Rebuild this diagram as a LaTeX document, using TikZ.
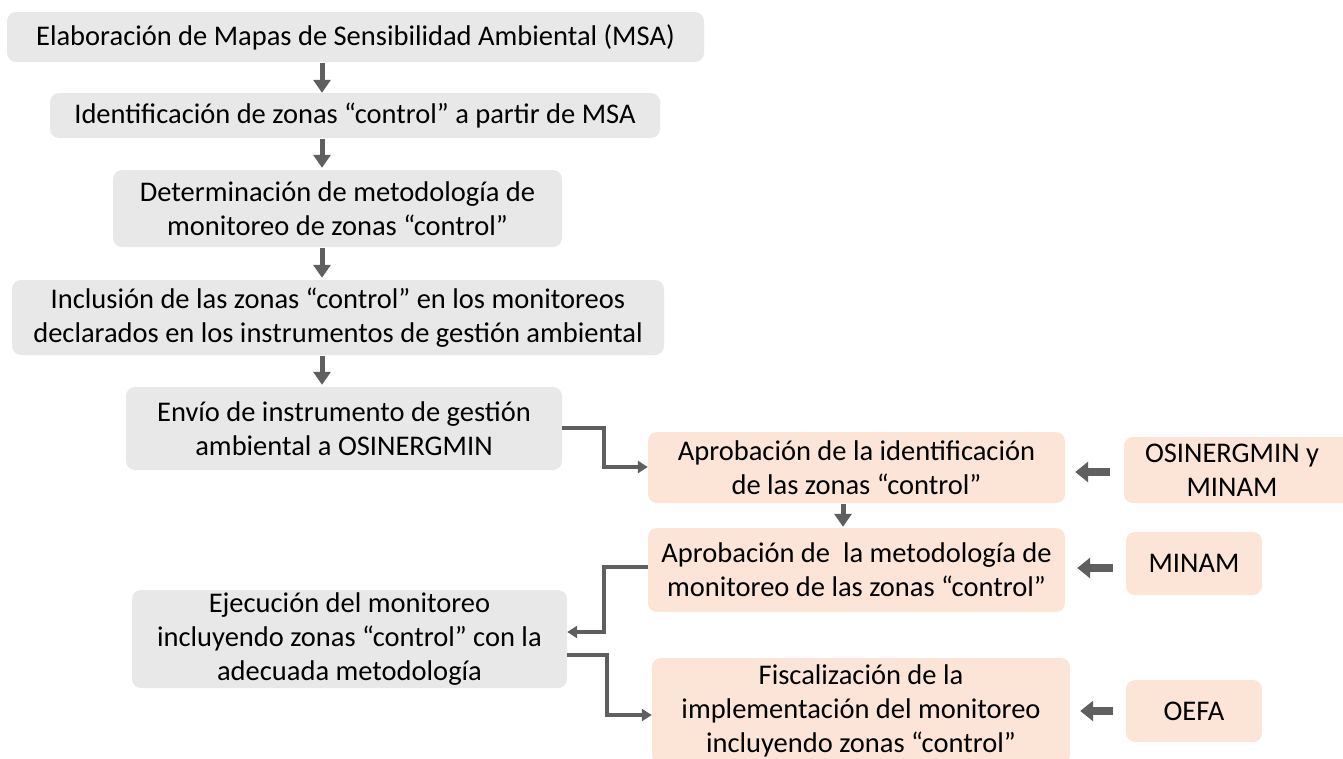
\documentclass[tikz,border=0pt]{standalone}
\usepackage{fontspec}
\setmainfont{Carlito}
\usetikzlibrary{arrows.meta,calc}
\definecolor{gbox}{HTML}{E8E8E8}
\definecolor{sbox}{HTML}{FCE4D6}
\definecolor{arrc}{HTML}{5F5F5F}
\begin{document}
\begin{tikzpicture}[x=1pt,y=-1pt,
  base/.style={rounded corners=9pt, align=center, inner sep=0pt,
    font=\fontsize{28.5}{34}\selectfont, text=black},
  gray box/.style={base, fill=gbox},
  pink box/.style={base, fill=sbox},
  down arrow/.style={draw=arrc, line width=5pt, -{Triangle[width=17pt,length=13pt]}},
  elbow arrow/.style={draw=arrc, line width=3.5pt, -{Triangle[width=12pt,length=10pt]}},
  side arrow/.style={draw=arrc, line width=8pt, -{Triangle[width=20pt,length=13pt]}}]
\useasboundingbox (0,0) rectangle (1343,758);
\begin{scope}
\clip (0,0) rectangle (1343,758);
\node[gray box, minimum width=697pt, minimum height=50pt] (b1) at (355.5,37)
  {Elaboración de Mapas de Sensibilidad Ambiental (MSA)};
\node[gray box, minimum width=610pt, minimum height=45pt] (b2) at (355,115.5)
  {Identificación de zonas “control” a partir de MSA};
\node[gray box, minimum width=449pt, minimum height=77pt] (b3) at (337.5,208.5)
  {Determinación de metodología de\\monitoreo de zonas “control”};
\node[gray box, minimum width=652pt, minimum height=75pt] (b4) at (338,317.5)
  {Inclusión de las zonas “control” en los monitoreos\\declarados en los instrumentos de gestión ambiental};
\node[gray box, minimum width=436pt, minimum height=83pt] (b5) at (344,428.5)
  {Envío de instrumento de gestión\\ambiental a OSINERGMIN};
\node[gray box, minimum width=435pt, minimum height=98pt] (b6) at (349.5,639)
  {Ejecución del monitoreo\\incluyendo zonas “control” con la\\adecuada metodología};
\node[pink box, minimum width=417pt, minimum height=71pt] (r1) at (856.5,467.5)
  {Aprobación de la identificación\\de las zonas “control”};
\node[pink box, minimum width=417pt, minimum height=84pt] (r2) at (856.5,570)
  {Aprobación de~ la metodología de\\monitoreo de las zonas “control”};
\node[pink box, minimum width=418pt, minimum height=106pt] (r3) at (861,711)
  {Fiscalización de la\\implementación del monitoreo\\incluyendo zonas “control”};
\node[pink box, minimum width=232pt, minimum height=66pt] (s1) at (1240,470) {};
\node[base] (s1t) at (1232,470) {OSINERGMIN y\\MINAM};
\node[pink box, minimum width=136pt, minimum height=63pt] (s2) at (1194,563.5) {MINAM};
\node[pink box, minimum width=136pt, minimum height=62pt] (s3) at (1194,711) {OEFA};
\end{scope}
\coordinate (ax) at (322,0);
\coordinate (bx) at (843,0);
\draw[down arrow] ($(b1.south -| ax)+(0,1)$) -- (b2.north -| ax);
\draw[down arrow] ($(b2.south -| ax)+(0,1)$) -- ($(b3.north -| ax)+(0,-2)$);
\draw[down arrow] ($(b3.south -| ax)+(0,1)$) -- ($(b4.north -| ax)+(0,-2)$);
\draw[down arrow] ($(b4.south -| ax)+(0,1)$) -- ($(b5.north -| ax)+(0,-2)$);
\draw[down arrow] ($(r1.south -| bx)+(0,1)$) -- ($(r2.north -| bx)+(0,-1)$);
\coordinate (e1) at (604,428);
\coordinate (e2) at (604,632);
\coordinate (e3) at (607,655);
\draw[elbow arrow] (b5.east |- e1) -| (604,467) -- (r1.west |- 0,467);
\draw[elbow arrow] (r2.west |- 0,567) -| (e2) -- (b6.east |- e2);
\draw[elbow arrow] (b6.east |- e3) -| (607,715) -- (r3.west |- 0,715);
\draw[side arrow] ($(s1.west)+(-14,2)$) -- ($(r1.east |- 0,472)+(10,0)$);
\draw[side arrow] ($(s2.west)+(-13,4.5)$) -- ($(r2.east |- 0,568)+(12,0)$);
\draw[side arrow] ($(s3.west)+(-13,0)$) -- ($(r3.east |- 0,711)+(10,0)$);
\end{tikzpicture}
\end{document}
